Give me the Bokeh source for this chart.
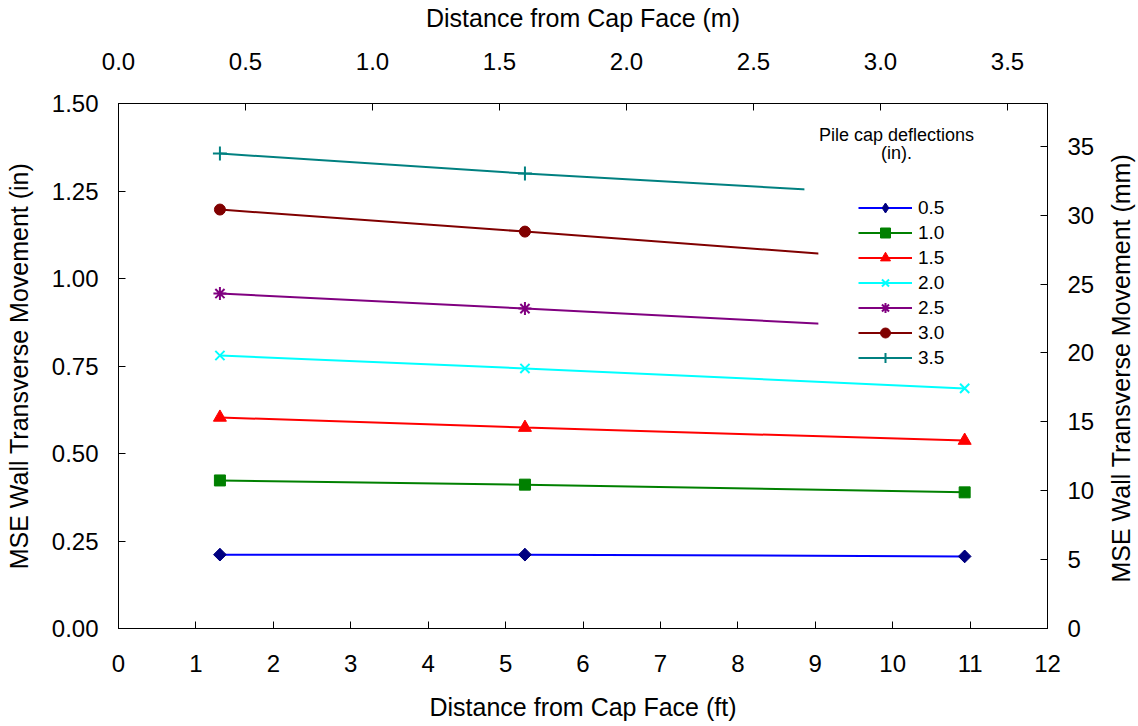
import math
from bokeh.plotting import figure
from bokeh.layouts import row
from bokeh.models import (Range1d, LinearAxis, FixedTicker, NumeralTickFormatter,
                          Legend, LegendItem, Label, BoxAnnotation)
from bokeh.core.properties import value
from bokeh.embed import file_html
from bokeh.resources import INLINE

# ---- data ----
x_ft = [1.31, 5.25, 10.93]
deflections = ["0.5", "1.0", "1.5", "2.0", "2.5", "3.0", "3.5"]
mov_05 = [0.211, 0.211, 0.206]
mov_10 = [0.423, 0.411, 0.389]
mov_15 = [0.603, 0.574, 0.537]
mov_20 = [0.780, 0.743, 0.686]
mov_25 = [0.957, 0.914, 0.850]
mov_30 = [1.197, 1.134, 1.040]
mov_35 = [1.357, 1.300, 1.229]
series = [mov_05, mov_10, mov_15, mov_20, mov_25, mov_30, mov_35]

x_ticks_ft = [0, 1, 2, 3, 4, 5, 6, 7, 8, 9, 10, 11, 12]
y_ticks_in = [0, 0.25, 0.5, 0.75, 1.0, 1.25, 1.5]
x_ticks_m = [0, 0.5, 1.0, 1.5, 2.0, 2.5, 3.0, 3.5]
y_ticks_mm = [0, 5, 10, 15, 20, 25, 30, 35]
right_title = "MSE Wall Transverse Movement (mm)"

# ---- styles ----
line_colors = ["#0000FF", "#008000", "#FF0000", "#00FFFF", "#800080", "#800000", "#008080"]
marker_colors = ["#000080", "#008000", "#FF0000", "#00FFFF", "#800080", "#800000", "#008080"]
markers = ["square", "square", "triangle", "x", "asterisk", "circle", "cross"]
legend_markers = ["diamond", "square", "triangle", "x", "asterisk", "circle", "cross"]
angles = [math.pi / 4, 0, 0, 0, 0, 0, 0]
sizes = [9, 11, 13, 13, 13, 11, 14]

FONT = "Liberation Sans"

p = figure(width=1100, height=726, output_backend="svg", toolbar_location=None,
           x_range=Range1d(0, 12), y_range=Range1d(0, 1.5),
           x_axis_location=None, y_axis_location=None)
p.min_border_left = 118
p.min_border_right = 53
p.min_border_top = 103
p.min_border_bottom = 98
p.outline_line_color = "black"
p.outline_line_width = 1
p.xgrid.visible = False
p.ygrid.visible = False
p.background_fill_color = "white"
p.border_fill_color = "white"

p.extra_x_ranges = {"m": Range1d(0, 12 * 0.3048)}
p.extra_y_ranges = {"mm": Range1d(0, 1.5 * 25.4)}


def style_axis(ax, ticks, fmt, label, lstand, astand):
    ax.ticker = FixedTicker(ticks=ticks)
    ax.formatter = NumeralTickFormatter(format=fmt)
    ax.axis_label = label
    ax.axis_label_text_font = FONT
    ax.axis_label_text_font_size = "25px"
    ax.axis_label_text_font_style = "normal"
    ax.axis_label_text_color = "black"
    ax.major_label_text_font = FONT
    ax.major_label_text_font_size = "24px"
    ax.major_label_text_color = "black"
    ax.major_tick_in = 7
    ax.major_tick_out = 0
    ax.minor_tick_in = 0
    ax.minor_tick_out = 0
    ax.axis_line_color = "black"
    ax.major_tick_line_color = "black"
    ax.major_label_standoff = lstand
    ax.axis_label_standoff = astand


ax_b = LinearAxis()
style_axis(ax_b, x_ticks_ft, "0", "Distance from Cap Face (ft)", 26, 18)
p.add_layout(ax_b, "below")

ax_l = LinearAxis()
style_axis(ax_l, y_ticks_in, "0.00", "MSE Wall Transverse Movement (in)", 20, 16)
p.add_layout(ax_l, "left")

ax_t = LinearAxis(x_range_name="m")
style_axis(ax_t, x_ticks_m, "0.0", "Distance from Cap Face (m)", 34, 18)
p.add_layout(ax_t, "above")

ax_r = LinearAxis(y_range_name="mm")
style_axis(ax_r, y_ticks_mm, "0", None, 20, 8)
p.add_layout(ax_r, "right")

items = []
for lab, ys, lc, mc, mk, lmk, ang, sz in zip(deflections, series, line_colors,
                                              marker_colors, markers, legend_markers,
                                              angles, sizes):
    r1 = p.line(x_ft, ys, line_color=lc, line_width=2)
    lw = 2 if mk in ("x", "asterisk", "cross") else 1
    r2 = p.scatter(x_ft, ys, marker=mk, angle=ang, size=sz, fill_color=mc,
                   line_color=mc, line_width=lw)
    if lmk != mk:
        # diamond drawn inside the rotated square; gives the legend its diamond symbol
        r2 = p.scatter(x_ft, ys, marker=lmk, size=12, fill_color=mc, line_color=mc,
                       line_width=lw)
    items.append(LegendItem(label=lab, renderers=[r1, r2]))

# white panels behind the legend (as in the original, they hide the line ends)
cover = BoxAnnotation(left=9.04, right=11.3, top=1.43, bottom=0.717,
                      fill_color="white", fill_alpha=1.0, line_color=None)
p.add_layout(cover)
cover2 = BoxAnnotation(left=8.86, right=9.1, top=1.43, bottom=1.16,
                       fill_color="white", fill_alpha=1.0, line_color=None)
p.add_layout(cover2)

legend = Legend(items=items, location=(740, 258), margin=0, padding=0,
                spacing=0, glyph_height=25, glyph_width=54, label_height=20,
                label_standoff=6, label_text_font=FONT, label_text_font_size="19px",
                label_text_color="black", background_fill_alpha=0.0,
                border_line_color=None)
p.add_layout(legend, "center")

t1 = Label(x=10.05, y=1.411, text="Pile cap deflections", text_font=FONT,
           text_font_size="18px", text_align="center", text_baseline="middle",
           text_color="black")
t2 = Label(x=10.05, y=1.360, text="(in).", text_font=FONT,
           text_font_size="18px", text_align="center", text_baseline="middle",
           text_color="black")
p.add_layout(t1)
p.add_layout(t2)

# narrow strip on the right holding the right axis title (reads bottom-to-top)
p2 = figure(width=38, height=726, output_backend="svg", toolbar_location=None,
            x_range=Range1d(0, 38), y_range=Range1d(0, 726),
            x_axis_location=None, y_axis_location=None)
p2.min_border_left = 0
p2.min_border_right = 0
p2.min_border_top = 0
p2.min_border_bottom = 0
p2.outline_line_color = None
p2.xgrid.visible = False
p2.ygrid.visible = False
p2.border_fill_color = "white"
p2.background_fill_color = "white"
p2.text(x=[20], y=[360], text=[right_title], angle=math.pi / 2,
        text_font=value(FONT), text_font_size="25px", text_align="center",
        text_baseline="middle", text_color="black")

layout = row(p, p2, spacing=0)
open("out.html", "w").write(file_html(layout, INLINE))
